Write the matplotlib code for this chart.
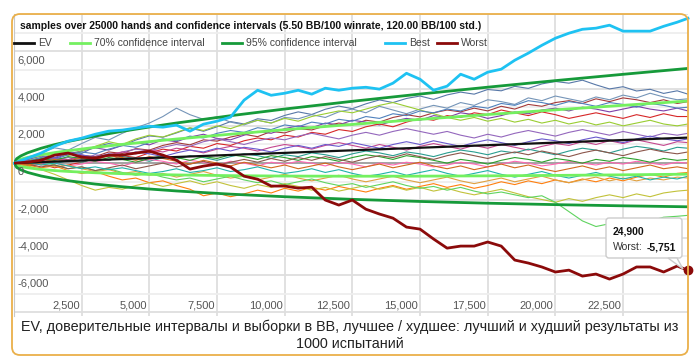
import numpy as np
import matplotlib.pyplot as plt
from matplotlib.patches import FancyBboxPatch, Polygon
from matplotlib.lines import Line2D
from matplotlib.transforms import IdentityTransform, blended_transform_factory, offset_copy

plt.rcParams['font.family'] = ['Liberation Sans', 'DejaVu Sans']

title = "samples over 25000 hands and confidence intervals (5.50 BB/100 winrate, 120.00 BB/100 std.)"
caption1 = "EV, доверительные интервалы и выборки в BB, лучшее / худшее: лучший и худший результаты из"
caption2 = "1000 испытаний"

# hands axis for the sample paths (every 500 hands, last point 24900)
hands = np.append(np.arange(0, 24501, 500), 24900)

# EV and confidence bands
ci_hands = [0, 100, 250, 500, 1000, 1500, 2000, 3000, 4000, 5000, 6000, 8000,
            10000, 12500, 15000, 17500, 20000, 22500, 24900]
ev = [0, 6, 14, 28, 55, 83, 110, 165, 220, 275, 330, 440,
      550, 688, 825, 963, 1100, 1238, 1370]
ci70_hi = [0, 130, 210, 306, 448, 564, 666, 846, 1006, 1154, 1293, 1552,
           1793, 2078, 2348, 2607, 2858, 3102, 3331]
ci70_lo = [0, -119, -183, -250, -338, -399, -446, -516, -566, -604, -633, -672,
           -693, -702, -698, -682, -658, -627, -592]
ci95_hi = [0, 241, 386, 553, 799, 994, 1162, 1453, 1707, 1938, 2152, 2544,
           2902, 3317, 3706, 4074, 4426, 4765, 5081]
ci95_lo = [0, -230, -358, -498, -689, -829, -942, -1123, -1267, -1388, -1492, -1664,
           -1802, -1942, -2056, -2149, -2226, -2290, -2342]

best = [0, 270, 540, 910, 1180, 1340, 1550, 1715, 1770, 1880,
        1980, 1930, 2040, 1715, 2090, 2250, 2470, 3380, 3910, 3640,
        3750, 3910, 3700, 4020, 3910, 4020, 4070, 3970, 4290, 4820,
        4500, 3910, 4130, 4770, 4500, 4880, 5040, 5520, 5900, 6320,
        6700, 6970, 7180, 7240, 7400, 7080, 7080, 7080, 7340, 7560,
        7770]
worst = [0, 50, 160, 430, 540, 320, 270, 430, 430, 540,
         640, 430, 160, -320, -160, -50, -210, -700, -860, -1230,
         -1230, -1340, -1290, -1980, -2250, -1980, -2470, -2730, -2950, -3430,
         -3540, -4070, -4560, -4450, -4450, -4230, -4450, -5200, -5360, -5570,
         -5840, -5740, -6060, -5950, -6220, -5950, -5570, -5570, -5840, -5520,
         -5751]

s01 = [0, 180, 90, 420, 610, 520, 880, 1050, 930, 1240,
       1460, 1390, 1620, 1880, 1710, 1950, 2230, 2100, 2380, 2290,
       2560, 2750, 2610, 2890, 3060, 2920, 3180, 3390, 3250, 3470,
       3600, 3420, 3660, 3810, 3700, 3950, 3880, 4120, 4010, 4250,
       4380, 4290, 4450, 4200, 3980, 4100, 3870, 3960, 3740, 3880,
       3700]
s02 = [0, 250, 560, 820, 700, 1050, 1380, 1240, 1600, 1900,
       2150, 2500, 2950, 2600, 2350, 2480, 2200, 2050, 2300, 2150,
       2450, 2380, 2600, 2450, 2750, 2900, 2700, 3050, 2850, 2650,
       2900, 3100, 2950, 3250, 3100, 3400, 3300, 3150, 3500, 3350,
       3600, 3450, 3300, 3550, 3400, 3650, 3500, 3750, 3550, 3400,
       3450]
s03 = [0, -100, 120, 300, 180, 420, 350, 600, 520, 780,
       700, 950, 1100, 980, 1250, 1180, 1400, 1550, 1420, 1700,
       1620, 1850, 1780, 2000, 2150, 2050, 2300, 2200, 2450, 2600,
       2480, 2700, 2850, 2750, 2950, 2800, 3050, 2900, 3150, 3050,
       3250, 3350, 3200, 3450, 3300, 3500, 3400, 3250, 3400, 3200,
       3300]
s04 = [0, 200, 380, 250, 500, 650, 820, 700, 950, 1100,
       980, 1250, 1150, 1400, 1550, 1320, 1250, 1500, 1700, 1600,
       1850, 2000, 1900, 2150, 2050, 2300, 2200, 2050, 2250, 2400,
       2300, 2550, 2450, 2700, 2600, 2400, 2550, 2750, 2650, 2850,
       2950, 2800, 3000, 2900, 2750, 2900, 3050, 2900, 2800, 2950,
       2800]
s05 = [0, 150, 300, 500, 400, 650, 900, 1150, 1000, 1300,
       1500, 1400, 1650, 1900, 1750, 2000, 1850, 2100, 2300, 2150,
       2400, 2250, 2500, 2650, 2800, 2700, 2900, 3100, 3250, 3050,
       2850, 2650, 2450, 2300, 2450, 2250, 2400, 2200, 2350, 2150,
       2300, 2100, 2250, 2050, 2200, 2000, 2150, 2300, 2100, 2000,
       2100]
s06 = [0, -150, -50, -250, -100, 50, 250, 150, 400, 300,
       550, 750, 650, 900, 800, 1050, 950, 1200, 1350, 1250,
       1500, 1400, 1650, 1550, 1800, 1700, 1950, 2100, 1950, 2200,
       2400, 2300, 2550, 2450, 2700, 2600, 2850, 2700, 2550, 2750,
       2600, 2400, 2550, 2700, 2550, 2400, 2600, 2450, 2650, 2500,
       2500]
s07 = [0, 100, -50, 150, 300, 200, 450, 350, 600, 750,
       650, 850, 1000, 900, 1150, 1300, 1150, 1000, 1200, 1350,
       1250, 1450, 1600, 1450, 1300, 1500, 1650, 1500, 1700, 1850,
       1700, 1550, 1700, 1500, 1350, 1550, 1400, 1600, 1750, 1600,
       1450, 1650, 1800, 1650, 1500, 1700, 1550, 1400, 1600, 1500,
       1600]
s08 = [0, 150, 50, 250, 150, 350, 250, 450, 600, 500,
       700, 600, 800, 700, 550, 750, 900, 800, 650, 850,
       1000, 900, 750, 950, 1100, 950, 800, 1000, 850, 700,
       900, 1050, 900, 750, 950, 800, 1000, 850, 700, 900,
       1050, 950, 1150, 1000, 1200, 1050, 1250, 1100, 950, 1150,
       1100]
s09 = [0, -100, 50, -50, 150, 50, 250, 150, 350, 250,
       100, 300, 200, 400, 300, 150, 350, 500, 400, 250,
       450, 350, 550, 450, 300, 500, 650, 550, 400, 600,
       500, 350, 550, 700, 600, 450, 650, 550, 750, 600,
       450, 650, 800, 700, 550, 750, 900, 800, 650, 850,
       800]
s10 = [0, 50, -100, 0, -150, -50, 100, 0, -150, 50,
       200, 100, -50, 150, 50, -100, 100, 0, -150, 50,
       -50, 100, 0, -150, 50, -50, -200, 0, -100, 50,
       -50, -200, -100, 50, -50, -200, -50, 100, 0, -150,
       -50, 100, 0, -100, 50, -50, 100, 0, -100, 50,
       0]
s11 = [0, -100, -250, -150, -400, -550, -450, -700, -900, -800,
       -1050, -950, -1200, -1400, -1750, -1600, -1800, -1650, -1450, -1600,
       -1350, -1500, -1300, -1450, -1250, -1400, -1550, -1350, -1200, -1400,
       -1250, -1100, -1300, -1150, -1350, -1200, -1000, -1150, -950, -1100,
       -900, -1050, -850, -1000, -800, -950, -750, -600, -750, -550,
       -500]
s12 = [0, 100, -50, -200, -100, -300, -450, -350, -550, -450,
       -650, -550, -750, -600, -450, -650, -800, -700, -900, -750,
       -600, -800, -950, -800, -650, -850, -1000, -850, -700, -900,
       -1050, -900, -750, -950, -1100, -950, -800, -1000, -850, -700,
       -900, -1050, -900, -750, -950, -800, -950, -800, -900, -750,
       -800]
s13 = [0, -150, -350, -600, -900, -1200, -1450, -1300, -1400, -1200,
       -1050, -1250, -1100, -950, -1150, -1000, -1200, -1350, -1150, -1300,
       -1100, -1250, -1450, -1300, -1500, -1350, -1200, -1400, -1250, -1450,
       -1300, -1500, -1350, -1550, -1700, -1550, -1400, -1600, -1800, -1950,
       -2100, -1900, -2050, -1850, -1700, -1850, -1650, -1800, -1600, -1500,
       -1450]
s14 = [0, -50, 100, -100, -300, -200, -400, -300, -500, -650,
       -550, -750, -900, -800, -1000, -850, -700, -900, -1050, -950,
       -1150, -1000, -850, -1050, -1200, -1100, -1300, -1150, -1000, -1200,
       -1350, -1250, -1450, -1300, -1500, -1650, -1550, -1700, -1850, -1750,
       -2100, -2600, -3100, -3400, -3250, -3300, -3000, -3100, -2900, -2850,
       -2800]
s15 = [0, 100, 250, 150, 350, 250, 100, 300, 200, 50,
       250, 400, 300, 150, 350, 250, 450, 350, 200, 400,
       300, 150, 350, 250, 100, 300, 450, 350, 200, 400,
       300, 150, 0, 200, 100, -50, 150, 300, 200, 50,
       250, 150, 0, 200, 100, 300, 200, 50, 250, 150,
       200]
s16 = [0, -50, -200, -100, -300, -200, -400, -250, -100, -300,
       -150, 0, -200, -50, 100, -100, 50, 200, 50, 250,
       100, 300, 150, 350, 200, 50, 250, 400, 300, 500,
       350, 200, 400, 550, 400, 250, 450, 600, 450, 650,
       500, 350, 550, 700, 550, 400, 600, 750, 600, 500,
       600]
s17 = [0, 200, 400, 300, 550, 450, 300, 500, 400, 600,
       500, 350, 550, 700, 600, 800, 650, 850, 750, 600,
       800, 950, 800, 1000, 900, 1100, 950, 800, 1000, 1150,
       1000, 1200, 1050, 900, 1100, 1250, 1100, 950, 1150, 1300,
       1200, 1050, 1250, 1400, 1250, 1100, 1300, 1450, 1300, 1200,
       1300]
s18 = [0, 100, 300, 200, 450, 600, 500, 750, 950, 850,
       1100, 1300, 1200, 1450, 1350, 1600, 1750, 1650, 1900, 1800,
       2050, 1950, 2200, 2100, 2350, 2250, 2500, 2400, 2650, 2550,
       2800, 2700, 2900, 2800, 3050, 2950, 3200, 3100, 3350, 3250,
       3100, 3300, 3200, 3050, 3250, 3150, 3000, 3200, 3100, 2950,
       3000]
s19 = [0, -100, 50, 200, 100, 300, 200, 400, 300, 150,
       350, 250, 100, -50, 150, 0, -150, 50, -100, -250,
       -100, -300, -150, 0, -200, -350, -200, -50, -250, -100,
       50, -150, -300, -150, -350, -200, -50, -250, -100, -300,
       -450, -300, -150, -350, -200, -400, -250, -100, -300, -200,
       -300]
s20 = [0, 50, -100, 0, -150, -300, -200, -350, -250, -400,
       -550, -450, -300, -500, -400, -250, -450, -350, -200, -400,
       -550, -450, -300, -500, -350, -550, -700, -600, -450, -650,
       -500, -350, -550, -700, -550, -400, -600, -750, -600, -450,
       -650, -800, -650, -500, -700, -850, -700, -900, -750, -850,
       -700]

samples = [s01, s02, s03, s04, s05, s06, s07, s08, s09, s10,
           s11, s12, s13, s14, s15, s16, s17, s18, s19, s20]
sample_colors = ['#5878a8', '#7595b8', '#a33a3a', '#7e3fa8', '#9acd32',
                 '#d62728', '#9467bd', '#c5478f', '#2a9d8f', '#ff69b4',
                 '#ff7f0e', '#e0a040', '#c2c23a', '#5fd35f', '#2ca02c',
                 '#8c564b', '#6a5acd', '#4f81bd', '#d2691e', '#20b2aa']

ev_color = '#111111'
c70 = '#74f060'
c95 = '#169a3a'
best_color = '#1ec2f2'
worst_color = '#8b0a0a'

W, H = 700, 362
fig = plt.figure(figsize=(W / 100, H / 100), dpi=100)

def fx(x):
    return x / W

def fy(y):
    return 1 - y / H

ax = fig.add_axes([fx(14), fy(316), 674 / W, 302 / H])
ax.set_xlim(0, 24900)
ax.set_ylim(-8200, 8000)
ax.set_facecolor('white')
for side in ['top', 'right', 'bottom']:
    ax.spines[side].set_visible(False)
ax.spines['left'].set_color('#c8c8c8')
ax.set_xticks(np.arange(2500, 24900, 2500))
ax.set_yticks(np.arange(-8000, 8001, 2000))
ax.set_yticks(np.arange(-7000, 8001, 2000), minor=True)
ax.tick_params(which='both', length=0, labelleft=False, labelbottom=False)
ax.grid(which='major', color='#dedede', lw=1.3)
ax.grid(which='minor', axis='y', color='#eeeeee', lw=1.3)
ax.set_axisbelow(True)
ax.axhline(0, color='#9a9a9a', lw=1.2, zorder=1.5)

for vals, col in zip(samples, sample_colors):
    ax.plot(hands, vals, color=col, lw=0.8, zorder=2)

ax.plot(ci_hands, ci70_hi, color=c70, lw=2.0, zorder=3)
ax.plot(ci_hands, ci70_lo, color=c70, lw=2.0, zorder=3)
ax.plot(ci_hands, ci95_hi, color=c95, lw=2.0, zorder=3)
ax.plot(ci_hands, ci95_lo, color=c95, lw=2.0, zorder=3)
ax.plot(ci_hands, ev, color=ev_color, lw=1.6, zorder=3)
ax.plot(hands, best, color=best_color, lw=2.0, zorder=4, clip_on=False)
ax.plot(hands, worst, color=worst_color, lw=2.0, zorder=4)
ax.plot(hands[-1], worst[-1], 'o', color=worst_color, ms=6, zorder=6, clip_on=False)

# axis labels drawn inside the plot like the original
ytr = offset_copy(blended_transform_factory(ax.transAxes, ax.transData), fig=fig, y=-9, units='dots')
for v in range(-6000, 6001, 2000):
    ax.text(0.005, v, f"{v:,}", transform=ytr, ha='left', va='center',
            fontsize=8, color='#555555', zorder=7)
xtr = offset_copy(blended_transform_factory(ax.transData, ax.transAxes), fig=fig, x=-2, units='dots')
for v in range(2500, 24900, 2500):
    ax.text(v, 0.036, f"{v:,}", transform=xtr, ha='right', va='center',
            fontsize=8, color='#555555', zorder=7)

# title and legend
fig.text(fx(20), fy(26), title, fontsize=7.5, fontweight='bold', color='#111111',
         ha='left', va='center')
legend = [("EV", ev_color, 14), ("70% confidence interval", c70, 70),
          ("95% confidence interval", c95, 222), ("Best", best_color, 385),
          ("Worst", worst_color, 437)]
for label, col, x0 in legend:
    fig.add_artist(Line2D([fx(x0), fx(x0 + 20)], [fy(43), fy(43)], color=col, lw=2.0,
                          transform=fig.transFigure))
    fig.text(fx(x0 + 24), fy(43), label, fontsize=7.5, color='#444444', ha='left', va='center')

# caption, shrunk until it fits the frame width
cap_font = ['Liberation Sans Narrow', 'DejaVu Sans Condensed', 'Liberation Sans', 'DejaVu Sans']
cap1 = fig.text(0.5, fy(327), caption1, fontsize=11, family=cap_font, color='#222222',
                ha='center', va='center')
cap2 = fig.text(0.5, fy(344), caption2, fontsize=11, family=cap_font, color='#222222',
                ha='center', va='center')
renderer = fig.canvas.get_renderer()
width = cap1.get_window_extent(renderer).width
if width > 654:
    size = 11 * 654 / width
    cap1.set_fontsize(size)
    cap2.set_fontsize(size)

# tooltip
tip = FancyBboxPatch((606, H - 258), 76, 40, boxstyle='round,pad=0,rounding_size=3',
                     transform=IdentityTransform(), facecolor='white', edgecolor='#cccccc',
                     lw=1, zorder=8)
fig.add_artist(tip)
fig.add_artist(Polygon([(668, H - 258), (683, H - 269), (677, H - 258)], closed=True,
                       transform=IdentityTransform(), facecolor='white', edgecolor='#cccccc',
                       lw=1, zorder=8))
fig.text(fx(613), fy(232), f"{hands[-1]:,}", fontsize=7.5, fontweight='bold', color='#111111',
         ha='left', va='center', zorder=9)
fig.text(fx(613), fy(247), "Worst:", fontsize=7.5, color='#333333', ha='left', va='center', zorder=9)
fig.text(fx(647), fy(247), f"{worst[-1]:,}", fontsize=7.5, fontweight='bold', color='#111111',
         ha='left', va='center', zorder=9)

# rounded orange frame
frame = FancyBboxPatch((12, H - 355), 676, 341, boxstyle='round,pad=0,rounding_size=8',
                       transform=IdentityTransform(), facecolor='none', edgecolor='#eab04a',
                       lw=1.3, zorder=10)
fig.add_artist(frame)

fig.savefig('out.png', dpi=100)
